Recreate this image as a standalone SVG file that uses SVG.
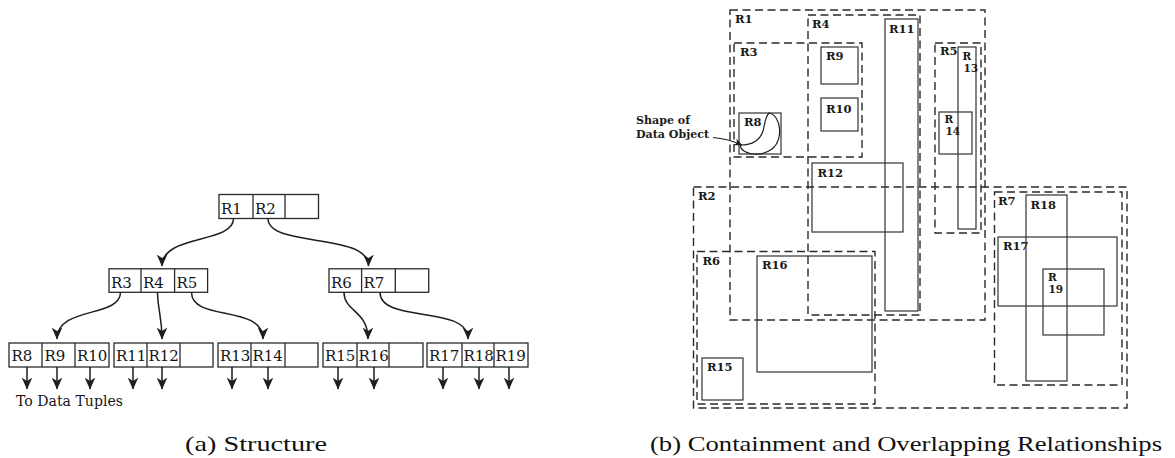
<svg xmlns="http://www.w3.org/2000/svg" width="1175" height="458" viewBox="0 0 1175 458">
  <defs>
    <marker id="arrow" markerUnits="userSpaceOnUse" markerWidth="12" markerHeight="12" viewBox="0 0 10 10" refX="9.5" refY="5" orient="auto">
      <path d="M0,0.6 L10,5 L0,9.4 L2.8,5 z" fill="#1e1e1e"/>
    </marker>
    <marker id="arrowSmall" markerUnits="userSpaceOnUse" markerWidth="8" markerHeight="8" viewBox="0 0 10 10" refX="9.5" refY="5" orient="auto">
      <path d="M0,0.6 L10,5 L0,9.4 L2.8,5 z" fill="#1e1e1e"/>
    </marker>
  </defs>
  <style>
    .cell { fill: #fff; stroke: #2a2a2a; stroke-width: 1.3; }
    .div { stroke: #2a2a2a; stroke-width: 1.3; }
    .lbl { font-family: "DejaVu Serif", "Liberation Serif", serif; font-size: 15px; fill: #151515; }
    .conn { fill: none; stroke: #1e1e1e; stroke-width: 1.5; marker-end: url(#arrow); }
    .dash { fill: none; stroke: #2a2a2a; stroke-width: 1.4; stroke-dasharray: 8 4.5; }
    .box { fill: none; stroke: #333; stroke-width: 1.2; }
    .rl { font-family: "DejaVu Serif", "Liberation Serif", serif; font-size: 11.5px; font-weight: bold; fill: #1a1a1a; }
    .sm { font-size: 10.5px; }
    .cap { font-family: "Liberation Serif", "Times New Roman", serif; font-size: 22px; fill: #111; }
  </style>
  <rect width="1175" height="458" fill="#fff"/>

  <!-- (a) tree structure: nodes -->
  <g id="node-root">
    <rect class="cell" x="219" y="194.5" width="99.5" height="24"/>
    <line class="div" x1="253" y1="194.5" x2="253" y2="218.5"/>
    <line class="div" x1="285" y1="194.5" x2="285" y2="218.5"/>
    <text class="lbl" x="221" y="213.5" font-size="14.5">R1</text>
    <text class="lbl" x="255" y="213.5" font-size="14.5">R2</text>
  </g>
  <g id="node-r1">
    <rect class="cell" x="109" y="268.8" width="98.6" height="23.5"/>
    <line class="div" x1="141" y1="268.8" x2="141" y2="292.3"/>
    <line class="div" x1="174.6" y1="268.8" x2="174.6" y2="292.3"/>
    <text class="lbl" x="111" y="288">R3</text>
    <text class="lbl" x="143" y="288">R4</text>
    <text class="lbl" x="176.5" y="288">R5</text>
  </g>
  <g id="node-r2">
    <rect class="cell" x="329" y="268.8" width="99.7" height="23.5"/>
    <line class="div" x1="361.6" y1="268.8" x2="361.6" y2="292.3"/>
    <line class="div" x1="395.3" y1="268.8" x2="395.3" y2="292.3"/>
    <text class="lbl" x="331" y="288">R6</text>
    <text class="lbl" x="363.5" y="288">R7</text>
  </g>
  <g id="leaf-r3">
    <rect class="cell" x="9" y="343" width="100" height="24"/>
    <line class="div" x1="42" y1="343" x2="42" y2="367"/>
    <line class="div" x1="75" y1="343" x2="75" y2="367"/>
    <text class="lbl" x="11.5" y="361">R8</text>
    <text class="lbl" x="44.5" y="361">R9</text>
    <text class="lbl" x="77" y="361">R10</text>
  </g>
  <g id="leaf-r4">
    <rect class="cell" x="114" y="343" width="99" height="24"/>
    <line class="div" x1="147" y1="343" x2="147" y2="367"/>
    <line class="div" x1="180" y1="343" x2="180" y2="367"/>
    <text class="lbl" x="116" y="361">R11</text>
    <text class="lbl" x="148.5" y="361">R12</text>
  </g>
  <g id="leaf-r5">
    <rect class="cell" x="218" y="343" width="100" height="24"/>
    <line class="div" x1="251" y1="343" x2="251" y2="367"/>
    <line class="div" x1="285" y1="343" x2="285" y2="367"/>
    <text class="lbl" x="220" y="361">R13</text>
    <text class="lbl" x="252.5" y="361">R14</text>
  </g>
  <g id="leaf-r6">
    <rect class="cell" x="323" y="343" width="100" height="24"/>
    <line class="div" x1="357" y1="343" x2="357" y2="367"/>
    <line class="div" x1="389" y1="343" x2="389" y2="367"/>
    <text class="lbl" x="325" y="361">R15</text>
    <text class="lbl" x="358.5" y="361">R16</text>
  </g>
  <g id="leaf-r7">
    <rect class="cell" x="427" y="343" width="101" height="24"/>
    <line class="div" x1="462" y1="343" x2="462" y2="367"/>
    <line class="div" x1="494" y1="343" x2="494" y2="367"/>
    <text class="lbl" x="429" y="361">R17</text>
    <text class="lbl" x="463.5" y="361">R18</text>
    <text class="lbl" x="495.5" y="361">R19</text>
  </g>
  <g id="tuples-note">
    <text class="lbl" x="16" y="406" font-size="14" textLength="107" lengthAdjust="spacingAndGlyphs">To Data Tuples</text>
  </g>

  <!-- (a) tree structure: pointers -->
  <g id="connectors">
    <path class="conn" d="M233.5,218.6 C233.5,244 162,234 162,266"/>
    <path class="conn" d="M268,218.6 C268,248 368.5,232 368.5,266"/>
    <path class="conn" d="M120.5,292.3 C120.5,318 57,306 57,339"/>
    <path class="conn" d="M157.4,292.3 C158,312 162,316 162,339"/>
    <path class="conn" d="M191.5,292.3 C191.5,322 263,304 263,339"/>
    <path class="conn" d="M344,292.3 C344,312 368,310 368,339"/>
    <path class="conn" d="M380,292.3 C380,324 468,304 468,339"/>
    <path class="conn" d="M27,367 V389"/>
    <path class="conn" d="M57,367 V389"/>
    <path class="conn" d="M90,367 V389"/>
    <path class="conn" d="M133,367 V389"/>
    <path class="conn" d="M162,367 V389"/>
    <path class="conn" d="M232,367 V389"/>
    <path class="conn" d="M268,367 V389"/>
    <path class="conn" d="M338,367 V389"/>
    <path class="conn" d="M374,367 V389"/>
    <path class="conn" d="M443,367 V389"/>
    <path class="conn" d="M479,367 V389"/>
    <path class="conn" d="M509,367 V389"/>
  </g>

  <!-- (b) spatial layout: bounding regions (dashed) -->
  <g id="region-R1"><rect class="dash" x="730" y="10" width="255" height="310"/><text class="rl" x="735" y="23">R1</text></g>
  <g id="region-R2"><rect class="dash" x="693.5" y="187" width="433.5" height="221"/><text class="rl" x="698" y="200">R2</text></g>
  <g id="region-R3"><rect class="dash" x="734" y="43" width="128" height="114"/><text class="rl" x="740" y="56">R3</text></g>
  <g id="region-R4"><rect class="dash" x="808" y="15" width="112" height="300"/><text class="rl" x="812" y="28">R4</text></g>
  <g id="region-R5"><rect class="dash" x="935" y="43" width="46" height="190"/><text class="rl" x="940" y="55">R5</text></g>
  <g id="region-R6"><rect class="dash" x="697" y="251.5" width="178" height="152.5"/><text class="rl" x="702.5" y="265">R6</text></g>
  <g id="region-R7"><rect class="dash" x="994.5" y="192" width="127.5" height="193"/><text class="rl" x="998" y="205">R7</text></g>

  <!-- (b) spatial layout: leaf entries (solid) -->
  <g id="entry-R8">
    <rect class="box" x="739" y="113" width="42" height="41"/>
    <text class="rl" x="744" y="126">R8</text>
    <path d="M769,113 C781,115 784,140 772,149 C764,155 752,156 744,151 C741,149 740,147 740.5,145 C752,145 760,140 763,131 C765,124 765,117 769,113 Z" fill="none" stroke="#222" stroke-width="1.2"/>
  </g>
  <g id="entry-R9"><rect class="box" x="821" y="47" width="37" height="37"/><text class="rl" x="826" y="60">R9</text></g>
  <g id="entry-R10"><rect class="box" x="821" y="98" width="37" height="33"/><text class="rl" x="826" y="112.5">R10</text></g>
  <g id="entry-R11"><rect class="box" x="885" y="19" width="33" height="292"/><text class="rl" x="889" y="33">R11</text></g>
  <g id="entry-R12"><rect class="box" x="812" y="163" width="91" height="69"/><text class="rl" x="817.5" y="177">R12</text></g>
  <g id="entry-R13"><rect class="box" x="958" y="47" width="18" height="182"/><text class="rl sm" x="962.5" y="59.5">R</text><text class="rl sm" x="963.5" y="71.5">13</text></g>
  <g id="entry-R14"><rect class="box" x="939" y="112" width="33" height="42"/><text class="rl sm" x="944.5" y="123">R</text><text class="rl sm" x="945.5" y="135">14</text></g>
  <g id="entry-R15"><rect class="box" x="702" y="358" width="41" height="42"/><text class="rl" x="707" y="371">R15</text></g>
  <g id="entry-R16"><rect class="box" x="757" y="256" width="115" height="116"/><text class="rl" x="762" y="269">R16</text></g>
  <g id="entry-R17"><rect class="box" x="998" y="237" width="119" height="69"/><text class="rl" x="1003" y="250">R17</text></g>
  <g id="entry-R18"><rect class="box" x="1026" y="195" width="41" height="186"/><text class="rl" x="1030.5" y="209">R18</text></g>
  <g id="entry-R19"><rect class="box" x="1043" y="269" width="61" height="66"/><text class="rl sm" x="1048" y="280.5">R</text><text class="rl sm" x="1048.5" y="292.5">19</text></g>

  <!-- callout for the object outline -->
  <g id="shape-note">
    <text class="rl" x="636" y="124" font-size="12" textLength="54" lengthAdjust="spacingAndGlyphs">Shape of</text>
    <text class="rl" x="636" y="138" font-size="12" textLength="73" lengthAdjust="spacingAndGlyphs">Data Object</text>
    <path d="M713,137.5 C724,138.5 733,141 742,145" fill="none" stroke="#1e1e1e" stroke-width="1.2" marker-end="url(#arrowSmall)"/>
  </g>

  <!-- sub-figure captions -->
  <text class="cap" x="185" y="451" textLength="142" lengthAdjust="spacingAndGlyphs">(a) Structure</text>
  <text class="cap" x="650" y="451" textLength="512" lengthAdjust="spacingAndGlyphs">(b) Containment and Overlapping Relationships</text>
</svg>
